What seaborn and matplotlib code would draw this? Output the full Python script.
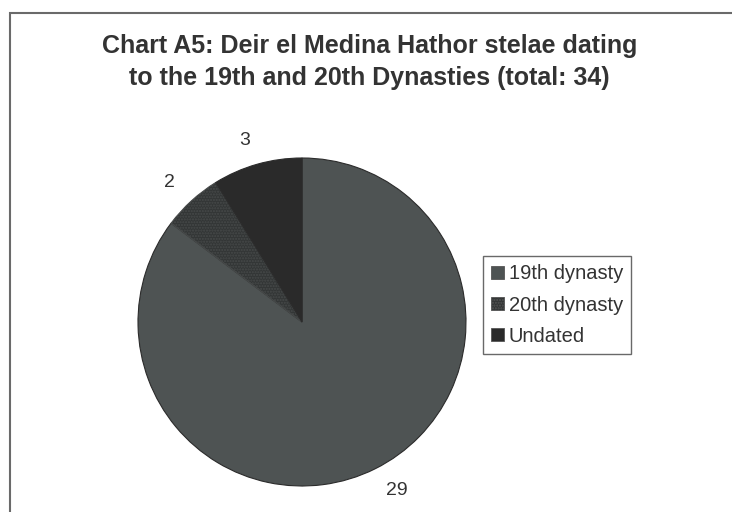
import seaborn as sns
import matplotlib.pyplot as plt
from matplotlib.patches import Rectangle

# Chart values
categories = ["19th dynasty", "20th dynasty", "Undated"]
counts = [29, 2, 3]
title_lines = ["Chart A5: Deir el Medina Hathor stelae dating",
               "to the 19th and 20th Dynasties (total: 34)"]

sns.set_style("white")
plt.rcParams["font.family"] = ["Liberation Sans", "DejaVu Sans"]

slice_colors = ["#4e5353", "#333636", "#2a2a2a"]
hatches = [None, "......", None]

fig = plt.figure(figsize=(7.32, 5.12), dpi=100)
fig.patch.set_facecolor("white")

# outer chart frame (runs off right and bottom edges like the scan)
fig.patches.append(Rectangle((10 / 732, -0.05), 1.0, (512 - 13) / 512 + 0.05,
                             transform=fig.transFigure, fill=False,
                             edgecolor="#6a6a6a", linewidth=1.5))

fig.text(0.505, 1 - 62 / 512, "\n".join(title_lines), ha="center", va="center",
         fontsize=18, fontweight="bold", color="#333333", linespacing=1.38)

# pie axes: centre ~ (302, 322) px, radius ~164 px
ax = fig.add_axes([138 / 732, 26 / 512, 328 / 732, 328 / 512])
wedges, texts = ax.pie(counts, labels=[str(c) for c in counts], colors=slice_colors,
                       startangle=90, counterclock=False, labeldistance=1.15,
                       wedgeprops=dict(edgecolor="#2b2b2b", linewidth=0.8),
                       textprops=dict(fontsize=14, color="#333333"))
for w, h in zip(wedges, hatches):
    if h:
        w.set_hatch(h)
        w.set_edgecolor("#474a4a")
ax.set_xlim(-1.0, 1.0)
ax.set_ylim(-1.0, 1.0)
ax.set_aspect("equal")
ax.axis("off")

# legend with small square markers
handles = []
for c, h in zip(slice_colors, hatches):
    handles.append(Rectangle((0, 0), 1, 1, facecolor=c, edgecolor="#555555",
                             linewidth=0.6, hatch=h))
leg = fig.legend(handles, categories, loc="upper left",
                 bbox_to_anchor=(483 / 732, 1 - 256 / 512),
                 frameon=True, fancybox=False, fontsize=14.5,
                 handlelength=0.6, handleheight=0.6, handletextpad=0.25,
                 labelspacing=0.6, borderpad=0.42, borderaxespad=0)
leg.get_frame().set_edgecolor("#444444")
leg.get_frame().set_linewidth(1.0)
for t in leg.get_texts():
    t.set_color("#333333")

fig.savefig("out.png", dpi=100)
